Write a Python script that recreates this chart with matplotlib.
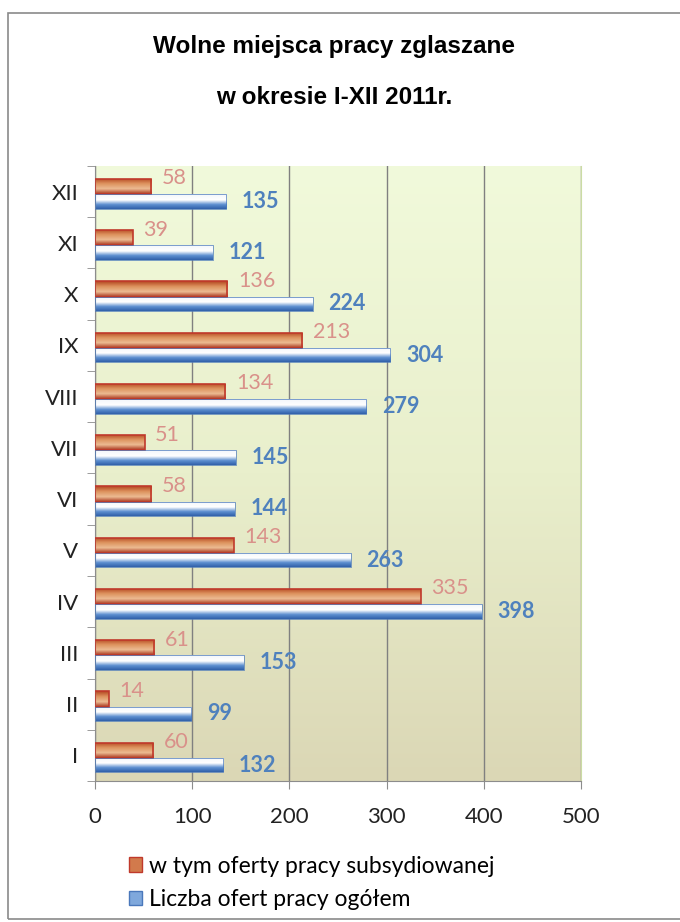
import numpy as np
import matplotlib.pyplot as plt
from matplotlib.colors import LinearSegmentedColormap
from matplotlib.patches import Patch, Rectangle

months = ['I', 'II', 'III', 'IV', 'V', 'VI', 'VII', 'VIII', 'IX', 'X', 'XI', 'XII']
subsidized = [60, 14, 61, 335, 143, 58, 51, 134, 213, 136, 39, 58]
total = [132, 99, 153, 398, 263, 144, 145, 279, 304, 224, 121, 135]

label_sub = 'w tym oferty pracy subsydiowanej'
label_tot = 'Liczba ofert pracy ogółem'

plt.rcParams['font.family'] = ['Lato', 'DejaVu Sans']

W, H = 680, 922
fig = plt.figure(figsize=(W / 100, H / 100), dpi=100)
ax = fig.add_axes([95 / W, 1 - 781 / H, (581 - 95) / W, (781 - 166) / H])

y = np.arange(len(months))
grad = np.linspace(0, 1, 256).reshape(-1, 1)

# plot area background: beige at the bottom, pale green at the top
bg = LinearSegmentedColormap.from_list('bg', ['#dbd7b5', '#e9efcc', '#f1fadb'])
ax.imshow(grad, cmap=bg, aspect='auto', extent=(0, 500, -0.5, 11.5),
          origin='lower', zorder=-2)

red_cm = LinearSegmentedColormap.from_list('red', ['#a8341c', '#ecbb92', '#dc915c', '#b2431e'])
blue_cm = LinearSegmentedColormap.from_list(
    'blue', [(0, '#2f5fa8'), (0.3, '#5d8fd0'), (0.6, '#ffffff'), (1, '#f2f6fb')])

bars_sub = ax.barh(y + 0.1, subsidized, height=0.3, facecolor='none',
                   edgecolor='#c0392b', linewidth=1.2, zorder=3)
bars_tot = ax.barh(y - 0.19, total, height=0.28, facecolor='none',
                   edgecolor='#4a78bb', linewidth=0.5, zorder=3)


def fill_gradient(bars, cmap):
    for b in bars:
        x0, y0 = b.get_xy()
        im = ax.imshow(grad, cmap=cmap, aspect='auto', origin='lower',
                       extent=(x0, x0 + b.get_width(), y0, y0 + b.get_height()),
                       zorder=2.5)
        im.set_clip_path(b)


fill_gradient(bars_sub, red_cm)
fill_gradient(bars_tot, blue_cm)

for yi, v in zip(y, subsidized):
    ax.text(v + 11, yi + 0.26, str(v), color='#d9918a', fontsize=15.5,
            va='center', ha='left', zorder=4)
for yi, v in zip(y, total):
    ax.text(v + 16, yi - 0.19, str(v), color='#4f81bd', fontsize=15.5,
            fontweight='bold', va='center', ha='left', zorder=4)

ax.set_xlim(0, 500)
ax.set_ylim(-0.5, 11.5)
ax.set_xticks(range(0, 501, 100))
ax.set_yticks(y)
ax.set_yticklabels(months)
ax.set_yticks(np.arange(-0.5, 12, 1), minor=True)
ax.tick_params(axis='y', which='major', length=0, pad=12, labelsize=16, colors='#222222')
ax.tick_params(axis='y', which='minor', length=6, color='#8c8c8c')
ax.tick_params(axis='x', length=6, color='#8c8c8c', pad=13, labelsize=16, labelcolor='#222222')
ax.xaxis.grid(True, color='#808080', linewidth=1)
ax.set_axisbelow(True)
for side in ['left', 'bottom']:
    ax.spines[side].set_color('#8c8c8c')
ax.spines['top'].set_visible(False)
ax.spines['right'].set_color('#cbdca4')

title_font = ['Liberation Sans', 'DejaVu Sans']
fig.text(334 / W, 1 - 47 / H, 'Wolne miejsca pracy zglaszane', ha='center', va='center',
         fontsize=17.5, fontweight='bold', family=title_font)
fig.text(334 / W, 1 - 97 / H, 'w okresie I-XII 2011r.', ha='center', va='center',
         fontsize=17.5, fontweight='bold', family=title_font)

handles = [Patch(facecolor='#d27a4c', edgecolor='#c0392b'),
           Patch(facecolor='#7fa8dc', edgecolor='#4a78bb')]
fig.legend(handles, [label_sub, label_tot], loc='upper left',
           bbox_to_anchor=(108 / W, 1 - 835 / H), frameon=False, fontsize=16.5,
           handlelength=0.6, handleheight=0.6, handletextpad=0.3, labelspacing=0.55)

fig.patches.append(Rectangle((8 / W, 3 / H), 700 / W, (H - 16) / H, transform=fig.transFigure,
                             fill=False, edgecolor='#8a8a8a', linewidth=1.2))

fig.savefig('out.png', dpi=100)
